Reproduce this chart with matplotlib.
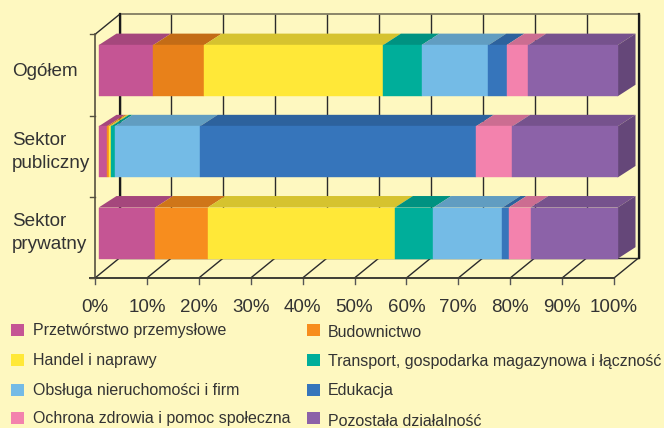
"""Stacked 100% bars with an oblique 3D look, drawn on a plain 2D axes."""
import numpy as np
import matplotlib
matplotlib.use("Agg")
import matplotlib.pyplot as plt
from matplotlib.colors import to_rgb
from matplotlib.patches import Polygon, Rectangle

W, H = 664, 428

ROWS = ["Sektor\nprywatny", "Sektor\npubliczny", "Ogółem"]
SECTORS = ["Przetwórstwo przemysłowe", "Budownictwo", "Handel i naprawy",
           "Transport, gospodarka magazynowa i łączność", "Obsługa nieruchomości i firm",
           "Edukacja", "Ochrona zdrowia i pomoc społeczna", "Pozostała działalność"]
OGOLEM = [10.5, 9.8, 34.5, 7.4, 12.9, 3.5, 4.2, 17.2]
PUBLICZNY = [1.6, 0.4, 0.4, 0.7, 16.4, 53.2, 7.0, 20.3]
PRYWATNY = [10.9, 10.1, 36.1, 7.4, 13.3, 1.2, 4.2, 16.8]
TICKS = [0, 10, 20, 30, 40, 50, 60, 70, 80, 90, 100]
COLORS = ["#C55594", "#F78D1E", "#FFE838", "#00AE9A", "#74BBE6", "#3675BB", "#F382AD", "#8C62A8"]
OGOLEM_ORANGE = "#E8811A"  # the top bar has a slightly deeper orange

BG = "#FEF8C0"
INK = "#333333"
X0, PX_PER_PCT = 95.0, 5.19     # pixel of 0 %, pixels per percent
Y0, PX_PER_ROW = 278.0, 81.2    # pixel of the floor, pixels per category
DEPTH_X, DEPTH_Y = 24.5, 20.0   # pixel offset of the back wall
BAR_FRONT = (3.7, 4.3)          # pixel offset of the bar front
BAR_BACK = (21.5, 15.8)         # pixel offset of the bar back
BAR_H = 0.63


def proj(x, y, d):
    """Oblique projection of percent, category and depth into data coordinates."""
    return x + d * DEPTH_X / PX_PER_PCT, y + d * DEPTH_Y / PX_PER_ROW


def off(x, y, offset):
    return x + offset[0] / PX_PER_PCT, y + offset[1] / PX_PER_ROW


def shade(color, k):
    return tuple(c * k for c in to_rgb(color))


def draw_frame(ax):
    lo, hi = -0.5, 2.5
    line = dict(color="#2b2b2b", lw=1.0, zorder=1, solid_capstyle="butt")
    for t in TICKS:
        # back wall, floor diagonal, front tick
        ax.plot(*zip(proj(t, lo, 1), proj(t, hi, 1)), **line)
        ax.plot(*zip(proj(t, lo, 0), proj(t, lo, 1)), **line)
        ax.plot([t, t], [lo, lo - 6 / PX_PER_ROW], color="#555555", lw=1.0, zorder=1)
    ax.plot(*zip(proj(0, hi, 1), proj(100, hi, 1)), color="#77725a", lw=1.2, zorder=1)
    ax.plot(*zip(proj(0, lo, 1), proj(100, lo, 1)), **line)
    for t in (0, 100):
        ax.plot(*zip(proj(t, lo, 1), proj(t, hi, 1)), color="#1a1a1a", lw=1.6, zorder=1)
    ax.plot(*zip(proj(0, hi, 0), proj(0, hi, 1)), **line)
    # front axis lines
    ax.plot([0, 0], [lo, hi], color="#555040", lw=1.2, zorder=1)
    ax.plot([-1.0, 100], [lo, lo], color="#3d3d35", lw=1.4, zorder=1)
    for k in range(4):
        ax.plot([-1.0, 0], [lo + k, lo + k], color="#555040", lw=1.0, zorder=1)


def draw_bar(ax, row, values, colors):
    y0, y1 = row - BAR_H / 2, row + BAR_H / 2
    edges = np.concatenate([[0], np.cumsum(values)])
    for i, color in enumerate(colors):
        a, b = edges[i], edges[i + 1]
        top = [off(a, y1, BAR_FRONT), off(b, y1, BAR_FRONT), off(b, y1, BAR_BACK), off(a, y1, BAR_BACK)]
        front = [off(a, y0, BAR_FRONT), off(b, y0, BAR_FRONT), off(b, y1, BAR_FRONT), off(a, y1, BAR_FRONT)]
        ax.add_patch(Polygon(top, fc=shade(color, 0.84), ec="none", zorder=3))
        ax.add_patch(Polygon(front, fc=color, ec=color, lw=0.3, zorder=4))
    side = [off(100, y0, BAR_FRONT), off(100, y0, BAR_BACK), off(100, y1, BAR_BACK), off(100, y1, BAR_FRONT)]
    ax.add_patch(Polygon(side, fc=shade(colors[-1], 0.72), ec="none", zorder=3))


def draw_legend(fig):
    rows_sw = [324, 354, 384, 412]
    text_left = [330.5, 360.5, 390.5, 418.5]
    text_right = [332.5, 361.5, 390.5, 421.5]
    for i, name in enumerate(SECTORS):
        r, c = i // 2, i % 2
        sx = 307 if c else 11
        tx = 328 if c else 33
        ty = text_right[r] if c else text_left[r]
        fig.patches.append(Rectangle((sx / W, 1 - (rows_sw[r] + 12) / H), 13 / W, 12 / H,
                                     transform=fig.transFigure, fc=COLORS[i], ec="none"))
        fig.text(tx / W, 1 - ty / H, name, fontsize=11.55, color=INK, va="center", ha="left")


def main():
    plt.rcParams["font.family"] = ["Liberation Sans", "DejaVu Sans"]
    fig = plt.figure(figsize=(W / 100, H / 100), dpi=100, facecolor=BG)
    ax = fig.add_axes([0, 0, 1, 1])
    ax.set_xlim(-X0 / PX_PER_PCT, (W - X0) / PX_PER_PCT)
    ax.set_ylim(-0.5 - (H - Y0) / PX_PER_ROW, -0.5 + Y0 / PX_PER_ROW)
    ax.axis("off")

    draw_frame(ax)
    top_colors = [OGOLEM_ORANGE if i == 1 else c for i, c in enumerate(COLORS)]
    draw_bar(ax, 0, PRYWATNY, COLORS)
    draw_bar(ax, 1, PUBLICZNY, COLORS)
    draw_bar(ax, 2, OGOLEM, top_colors)

    for t in TICKS:
        ax.text(t, -0.5 - 29 / PX_PER_ROW, f"{t}%", fontsize=13.5, color=INK, ha="center", va="center")
    label_y = [233, 152, 71.5]
    for name, py in zip(ROWS, label_y):
        ax.text(-X0 / PX_PER_PCT + 12 / PX_PER_PCT, -0.5 + (Y0 - py) / PX_PER_ROW, name, fontsize=13.6,
                color=INK, ha="left", va="center", linespacing=1.45)

    draw_legend(fig)
    fig.savefig("out.png", dpi=100, facecolor=BG)


if __name__ == "__main__":
    main()
